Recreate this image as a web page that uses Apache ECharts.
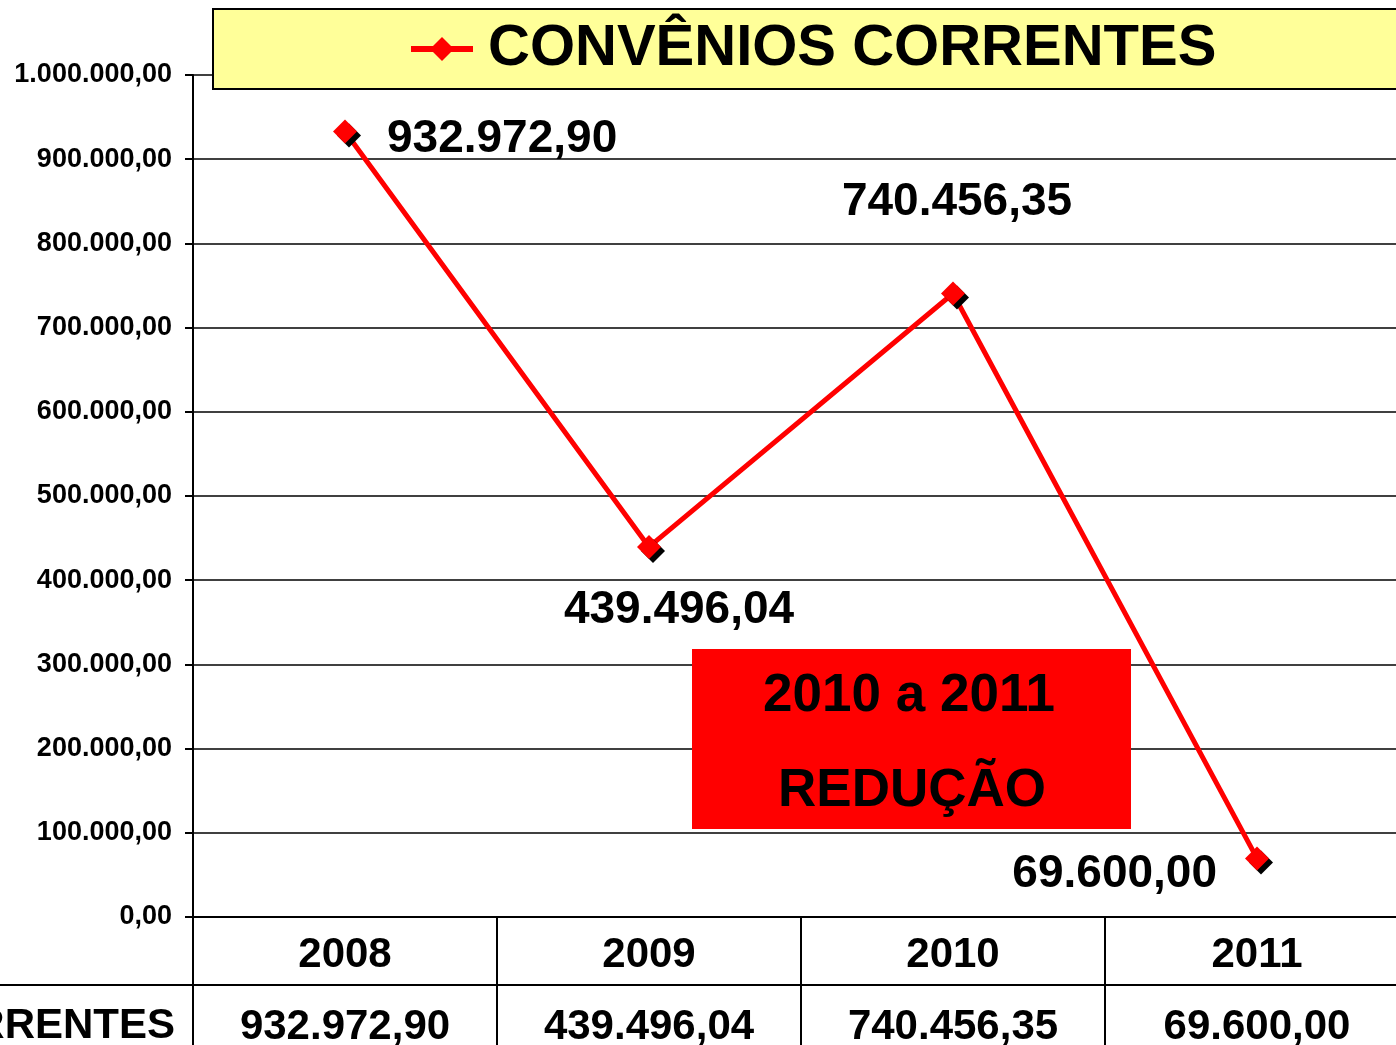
<!DOCTYPE html>
<html><head><meta charset="utf-8">
<script src="https://cdn.jsdelivr.net/npm/echarts@6/dist/echarts.min.js"></script>
<style>html,body{margin:0;padding:0;background:#fff;overflow:hidden}#c{width:1396px;height:1045px}</style>
</head><body><div id="c"></div>
<script>
const categories = ['2008', '2009', '2010', '2011'];
const seriesName = 'CONVÊNIOS CORRENTES';
const values = [932972.90, 439496.04, 740456.35, 69600.00];
const yMin = 0, yMax = 1000000, yStep = 100000;
const noteLines = ['2010 a 2011', 'REDUÇÃO'];

function fmt(v) {
  const neg = v < 0; v = Math.abs(v);
  let [i, d] = v.toFixed(2).split('.');
  i = i.replace(/\B(?=(\d{3})+(?!\d))/g, '.');
  return (neg ? '-' : '') + i + ',' + d;
}

const FONT = '"Liberation Sans", Arial, sans-serif';
const labelCfg = [
  { position: 'right', distance: 30, offset: [0, 8] },
  { position: 'bottom', distance: 28, offset: [30, 0] },
  { position: 'top', distance: 56, offset: [4, 0] },
  { position: 'left', distance: 28, offset: [0, 16] }
];

const chart = echarts.init(document.getElementById('c'), null, { renderer: 'canvas' });
chart.setOption({
  animation: false,
  backgroundColor: '#ffffff',
  grid: { left: 193, top: 75, right: -13, bottom: 128, containLabel: false, outerBoundsMode: 'none' },
  legend: {
    data: [seriesName],
    left: 213, top: 9,
    itemWidth: 62, itemHeight: 30,
    backgroundColor: '#FFFF99',
    borderColor: '#000', borderWidth: 2, borderRadius: 0,
    padding: [9, 240, 9, 195],
    selectedMode: false,
    lineStyle: { width: 6 },
    textStyle: { fontFamily: FONT, fontWeight: 'bold', fontSize: 58, color: '#000', lineHeight: 58, padding: [4, 0, 0, 10] },
    z: 10
  },
  xAxis: [
    {
      type: 'category', data: categories, position: 'bottom', boundaryGap: true,
      axisLine: { show: true, lineStyle: { color: '#000', width: 2 } },
      axisTick: { show: true, length: 128, interval: 0, lineStyle: { color: '#000', width: 2 } },
      axisLabel: { fontFamily: FONT, fontWeight: 'bold', fontSize: 42, color: '#000', margin: 17, interval: 0 },
      splitLine: { show: false }
    },
    {
      type: 'category', data: categories, position: 'bottom', offset: 68, boundaryGap: true,
      axisLine: { show: false }, axisTick: { show: false },
      axisLabel: { fontFamily: FONT, fontWeight: 'bold', fontSize: 42, color: '#000', margin: 21, interval: 0,
        formatter: (v, idx) => fmt(values[idx]) },
      splitLine: { show: false }
    }
  ],
  yAxis: {
    type: 'value', min: yMin, max: yMax, interval: yStep,
    axisLine: { show: true, lineStyle: { color: '#000', width: 2 } },
    axisTick: { show: true, length: 8, lineStyle: { color: '#000', width: 2 } },
    axisLabel: { fontFamily: FONT, fontWeight: 'bold', fontSize: 27, color: '#000', margin: 21, formatter: v => fmt(v) },
    splitLine: { show: true, lineStyle: { color: '#000', width: 1.5 } }
  },
  series: [{
    name: seriesName, type: 'line', xAxisIndex: 0,
    data: values.map((v, i) => ({ value: v, label: labelCfg[i] })),
    color: '#FF0000',
    lineStyle: { color: '#FF0000', width: 5 },
    symbol: 'diamond', symbolSize: 24,
    itemStyle: { color: '#FF0000', shadowColor: '#000', shadowBlur: 0, shadowOffsetX: 4, shadowOffsetY: 4 },
    label: { show: true, fontFamily: FONT, fontWeight: 'bold', fontSize: 46, color: '#000', formatter: p => fmt(p.value) },
    z: 5
  }],
  graphic: [
    { type: 'line', shape: { x1: 0, y1: 985, x2: 1396, y2: 985 }, style: { stroke: '#000', lineWidth: 2 }, z: 3 },
    { type: 'text', right: 1396 - 175, top: 1005, style: { text: seriesName, font: 'bold 42px ' + FONT, fill: '#000', textAlign: 'right' }, z: 3 },
    { type: 'rect', shape: { x: 692, y: 649, width: 439, height: 180 }, style: { fill: '#FF0000' }, z: 4 },
    { type: 'text', x: 909, y: 696, style: { text: noteLines[0], font: 'bold 53px ' + FONT, fill: '#000', align: 'center', verticalAlign: 'middle' }, z: 5 },
    { type: 'text', x: 912, y: 791, style: { text: noteLines[1], font: 'bold 53px ' + FONT, fill: '#000', align: 'center', verticalAlign: 'middle' }, z: 5 }
  ]
});
</script>
</body></html>
